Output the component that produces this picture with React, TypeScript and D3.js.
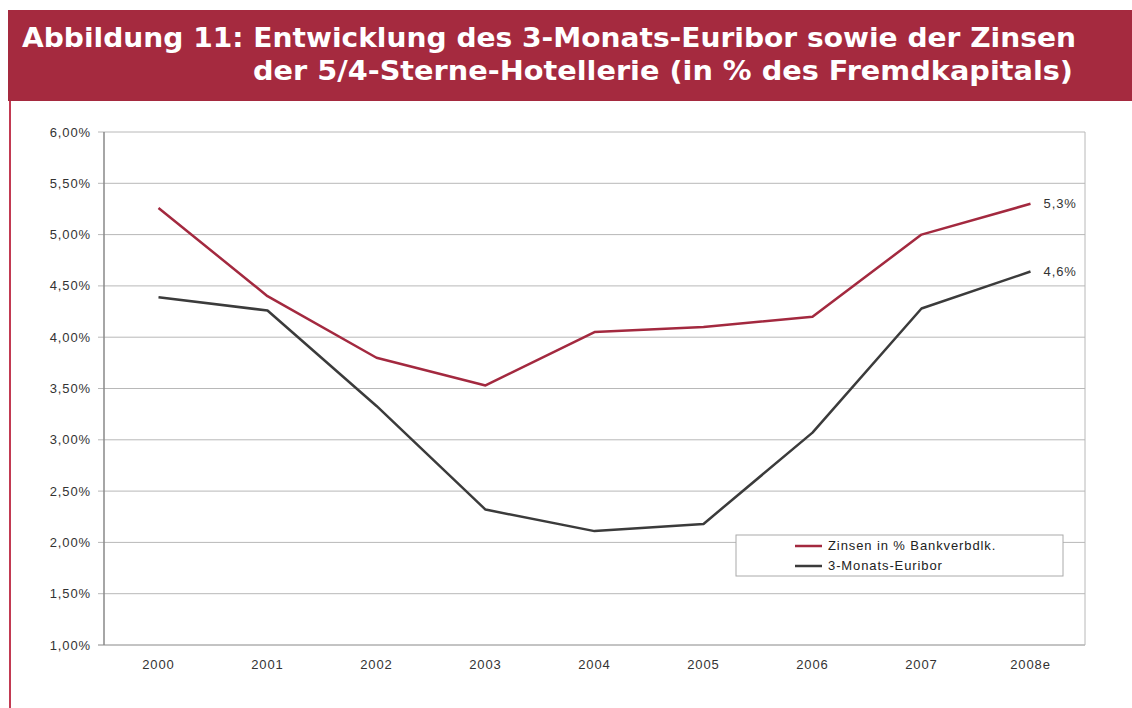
import React from "react";
import * as d3 from "d3";

const years = ["2000", "2001", "2002", "2003", "2004", "2005", "2006", "2007", "2008e"];
const zinsen = [5.26, 4.4, 3.8, 3.53, 4.05, 4.1, 4.2, 5.0, 5.3];
const euribor = [4.39, 4.26, 3.33, 2.32, 2.11, 2.18, 3.07, 4.28, 4.64];
const yTicks = [1.0, 1.5, 2.0, 2.5, 3.0, 3.5, 4.0, 4.5, 5.0, 5.5, 6.0];
const seriesNames = ["Zinsen in % Bankverbdlk.", "3-Monats-Euribor"];
const endLabels = ["5,3%", "4,6%"];
const titleLines = [
  "Abbildung 11: Entwicklung des 3-Monats-Euribor sowie der Zinsen",
  "der 5/4-Sterne-Hotellerie (in % des Fremdkapitals)",
];

const RED = "#a3293f";
const DARK = "#3b3b3b";
const BAND = "#a52a3f";

export default function App() {
  const W = 1132, H = 708;
  const left = 104, right = 1085, top = 132, bottom = 645;
  const x = d3.scaleBand().domain(years).range([left, right]);
  const y = d3.scaleLinear().domain([1, 6]).range([bottom, top]);
  const cx = (i: number) => (x(years[i]) as number) + x.bandwidth() / 2;
  const line = d3.line<number>().x((_, i) => cx(i)).y((d) => y(d));
  const font = "'Liberation Sans', Arial, sans-serif";
  const fmt = (v: number) => v.toFixed(2).replace(".", ",") + "%";
  const series = [zinsen, euribor];
  const colors = [RED, DARK];
  const lab = { fontFamily: font, fontSize: 13, fill: "#333", letterSpacing: 0.9 } as any;

  return (
    <svg width={W} height={H} style={{ position: "absolute", left: 0, top: 0, background: "#fff" }}>
      <rect x={8} y={10} width={W - 8} height={91} fill={BAND} />
      <text x={22} y={47} fill="#fff" fontFamily="'DejaVu Sans', Verdana, sans-serif" fontWeight="bold" fontSize={27} textLength={1054} lengthAdjust="spacingAndGlyphs">
        {titleLines[0]}
      </text>
      <text x={253} y={80} fill="#fff" fontFamily="'DejaVu Sans', Verdana, sans-serif" fontWeight="bold" fontSize={27} textLength={820} lengthAdjust="spacingAndGlyphs">
        {titleLines[1]}
      </text>
      <rect x={9} y={101} width={2} height={H - 101} fill="#c23a52" />

      {yTicks.map((t) => (
        <g key={t}>
          <line x1={left - 6} x2={right} y1={y(t)} y2={y(t)} stroke={t === 1 ? "#888" : "#b8b8b8"} strokeWidth={1} />
          <text x={91} y={y(t) + 4.5} textAnchor="end" {...lab}>
            {fmt(t)}
          </text>
        </g>
      ))}
      <line x1={left} x2={left} y1={top} y2={bottom} stroke="#888" strokeWidth={1.5} />
      <line x1={right} x2={right} y1={top} y2={bottom} stroke="#b8b8b8" strokeWidth={1} />
      {years.map((yr, i) => (
        <text key={yr} x={cx(i)} y={669} textAnchor="middle" {...lab}>
          {yr}
        </text>
      ))}

      {series.map((s, k) => (
        <path key={k} d={line(s) as string} fill="none" stroke={colors[k]} strokeWidth={2.5} strokeLinejoin="round" />
      ))}
      {series.map((s, k) => (
        <text key={k} x={cx(s.length - 1) + 13} y={y(s[s.length - 1]) + 4} {...lab}>
          {endLabels[k]}
        </text>
      ))}

      <rect x={736} y={535} width={327} height={41} fill="#fff" stroke="#aaa" strokeWidth={1} />
      {seriesNames.map((n, k) => (
        <g key={n}>
          <line x1={795} x2={822} y1={546 + k * 20} y2={546 + k * 20} stroke={colors[k]} strokeWidth={2.5} />
          <text x={828} y={550 + k * 20} {...lab} fill="#222">
            {n}
          </text>
        </g>
      ))}
    </svg>
  );
}
